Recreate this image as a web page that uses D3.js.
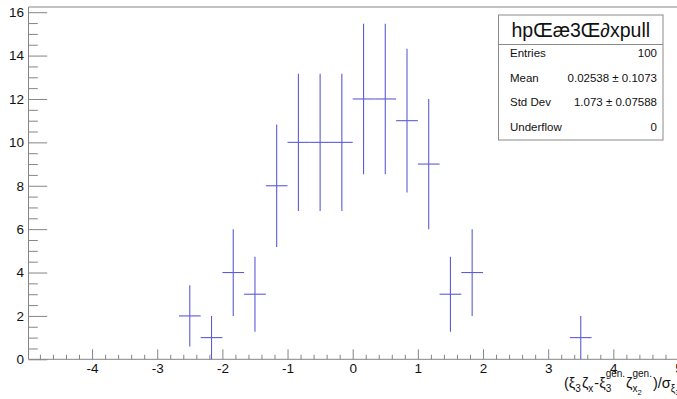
<!DOCTYPE html>
<html>
<head>
<meta charset="utf-8">
<script src="https://cdn.jsdelivr.net/npm/d3@7"></script>
<style>
  html, body { margin: 0; padding: 0; background: #fff; }
  svg { display: block; font-family: "Liberation Sans", Arial, Helvetica, sans-serif; }
</style>
</head>
<body>
<svg id="chart" width="677" height="399"></svg>
<script>
// Histogram: 30 bins between -5 and 5
const binLow = -5;
const binHigh = 5;
const binCounts = [0, 0, 0, 0, 0, 0, 0, 2, 1, 4, 3, 8, 10, 10, 10, 12, 12, 11, 9, 3, 4, 0, 0, 0, 0, 1, 0, 0, 0, 0];

// Axis ranges and tick labels
const xDomain = [-5, 5];
const yDomain = [0, 16.24];
const xTickLabels = [-4, -3, -2, -1, 0, 1, 2, 3, 4, 5];
const yTickLabels = [0, 2, 4, 6, 8, 10, 12, 14, 16];

// Statistics box
const statsTitle = "hpŒæ3Œ∂xpull";
const statsNames = ["Entries", "Mean", "Std Dev", "Underflow"];
const statsValues = ["100", "0.02538 \u00b1 0.1073", "1.073 \u00b1 0.07588", "0"];

const svg = d3.select("#chart");
const W = 677, H = 399;
const frameLeft = 28.5, frameTop = 7, frameBottom = 359.3;

const x = d3.scaleLinear().domain(xDomain).range([26.9, 678.5]);
const y = d3.scaleLinear().domain(yDomain).range([frameBottom, frameTop]);

const axisColor = "#858585";
const textColor = "#111";

// frame
svg.append("g").attr("fill", "none").attr("stroke", axisColor).attr("stroke-width", 1)
  .selectAll("line")
  .data([
    [frameLeft, frameTop, W + 2, frameTop],
    [frameLeft, frameTop, frameLeft, frameBottom],
    [frameLeft, frameBottom, W + 2, frameBottom]
  ])
  .join("line")
  .attr("x1", d => d[0]).attr("y1", d => d[1])
  .attr("x2", d => d[2]).attr("y2", d => d[3]);

function styleAxis(g) {
  g.select(".domain").remove();
  g.selectAll(".tick line").attr("stroke", axisColor);
  g.selectAll(".tick text").attr("fill", textColor).style("font-size", "13.5px")
    .style("font-family", "'Liberation Sans', Arial, Helvetica, sans-serif");
}

// x axis: majors every 1, minors every 0.2, ticks pointing into the frame
const xMinor = d3.range(-48, 51, 2).map(v => v / 10).filter(v => Math.abs(v * 10 % 10) > 1e-6);
svg.append("g").attr("transform", `translate(0,${frameBottom})`)
  .call(d3.axisBottom(x).tickValues(xMinor).tickSize(-4.5).tickFormat(""))
  .call(styleAxis);
svg.append("g").attr("transform", `translate(0,${frameBottom})`)
  .call(d3.axisBottom(x).tickValues(xTickLabels).tickSize(-10).tickPadding(4.5).tickFormat(d => String(d)))
  .call(styleAxis);

// y axis: majors every 2, minors every 0.5
const yMinor = d3.range(1, 33).map(v => v / 2).filter(v => v % 2 !== 0);
svg.append("g").attr("transform", `translate(${frameLeft},0)`)
  .call(d3.axisLeft(y).tickValues(yMinor).tickSize(-9.3).tickFormat(""))
  .call(styleAxis);
svg.append("g").attr("transform", `translate(${frameLeft},0)`)
  .call(d3.axisLeft(y).tickValues(yTickLabels).tickSize(-18.7).tickPadding(4.5).tickFormat(d => String(d)))
  .call(styleAxis);

// histogram points with Poisson error bars
const binWidth = (binHigh - binLow) / binCounts.length;
const bins = binCounts.map((c, i) => ({
  lo: binLow + i * binWidth,
  hi: binLow + (i + 1) * binWidth,
  mid: binLow + (i + 0.5) * binWidth,
  count: c,
  err: Math.sqrt(c)
})).filter(b => b.count > 0);

const marks = svg.append("g").attr("stroke", "#5c5cd6").attr("stroke-width", 1.1).attr("fill", "none");
marks.selectAll("line.h").data(bins).join("line").attr("class", "h")
  .attr("x1", d => x(d.lo)).attr("x2", d => x(d.hi))
  .attr("y1", d => y(d.count)).attr("y2", d => y(d.count));
marks.selectAll("line.v").data(bins).join("line").attr("class", "v")
  .attr("x1", d => x(d.mid)).attr("x2", d => x(d.mid))
  .attr("y1", d => y(Math.max(0, d.count - d.err))).attr("y2", d => y(d.count + d.err));

// statistics box
const box = svg.append("g");
const bx = 498.5, by = 15, bw = 164.5, bh = 125;
box.append("rect").attr("x", bx).attr("y", by).attr("width", bw).attr("height", bh)
  .attr("fill", "#fff").attr("stroke", "#8a8a8a").attr("stroke-width", 1);
box.append("line").attr("x1", bx).attr("x2", bx + bw).attr("y1", 44.5).attr("y2", 44.5)
  .attr("stroke", "#8a8a8a");
box.append("text").attr("x", bx + bw / 2).attr("y", 37).attr("text-anchor", "middle")
  .attr("fill", textColor).style("font-size", "19.5px").text(statsTitle);
const rowY = [57, 82, 106, 131];
box.selectAll("text.name").data(statsNames).join("text").attr("class", "name")
  .attr("x", 510).attr("y", (d, i) => rowY[i]).attr("fill", textColor)
  .style("font-size", "11.5px").text(d => d);
box.selectAll("text.val").data(statsValues).join("text").attr("class", "val")
  .attr("x", 657).attr("y", (d, i) => rowY[i]).attr("text-anchor", "end").attr("fill", textColor)
  .style("font-size", "11.5px").text(d => d);

// x axis title with sub/superscripts
const titleAtoms = [
  { base: "(\u03be", sub: "3" },
  { base: "\u03b6", sub: "x" },
  { base: "-\u03be", sub: "3", sup: "gen." },
  { base: "\u03b6", sub: "x", subsub: "2", sup: "gen." },
  { base: ")/\u03c3", sub: "\u03be", subsub: "3" },
  { base: "", sub: "\u03b6", subsub: "x" }
];
const tg = svg.append("g").attr("fill", textColor);
const baseY = 388;
let cx = 564;
function put(str, px, py, size) {
  const t = tg.append("text").attr("x", px).attr("y", py).style("font-size", size + "px").text(str);
  return t.node().getComputedTextLength();
}
titleAtoms.forEach(a => {
  if (a.base) cx += put(a.base, cx, baseY, 14.5);
  const start = cx;
  let subEnd = start, supEnd = start;
  if (a.sub) subEnd += put(a.sub, subEnd, baseY + 4, 10);
  if (a.subsub) subEnd += put(a.subsub, subEnd, baseY + 7, 7.5);
  if (a.sup) supEnd += put(a.sup, start, baseY - 11, 10);
  cx = Math.max(subEnd, supEnd) + 1;
});
</script>
</body>
</html>
